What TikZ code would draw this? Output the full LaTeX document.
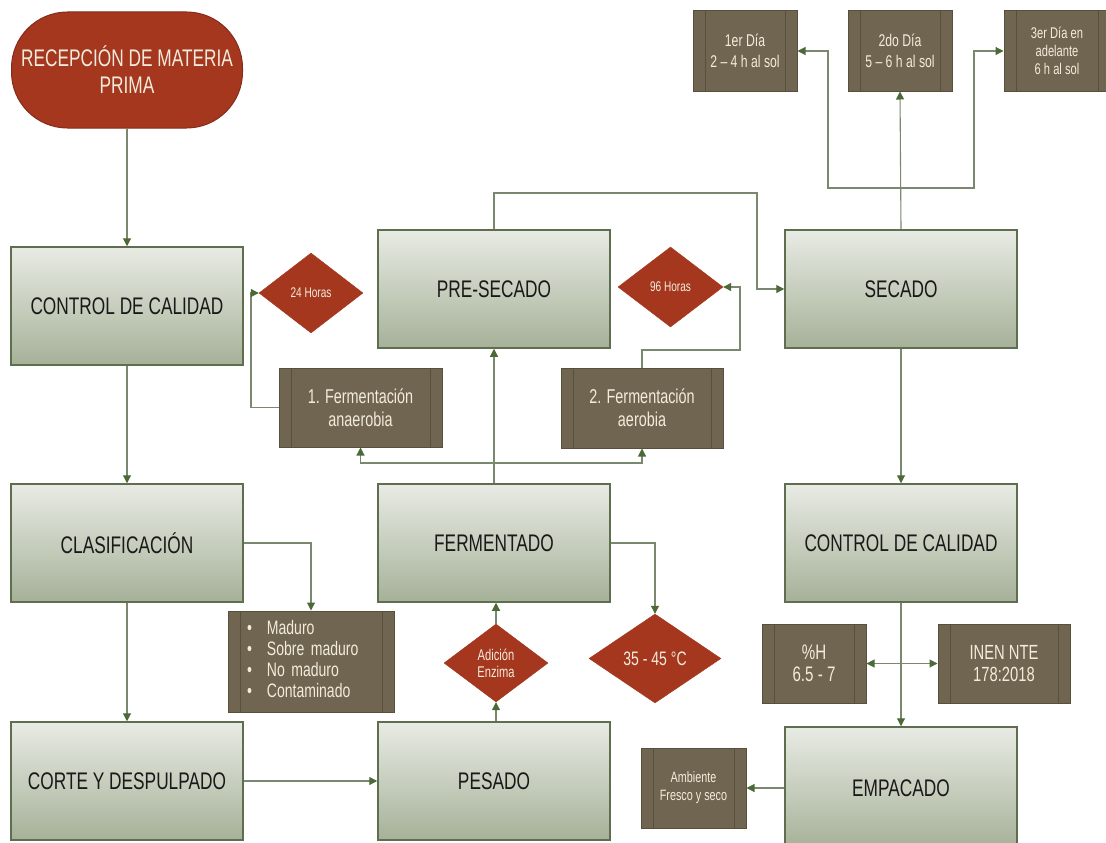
\documentclass[tikz,border=0pt]{standalone}
\usepackage{fontspec}
\setmainfont[FakeStretch=0.72]{Liberation Sans}
\usetikzlibrary{shapes.geometric,arrows.meta}
\definecolor{boxline}{HTML}{5E6E4E}
\definecolor{mtop}{HTML}{E8EBE4}
\definecolor{mbot}{HTML}{A6B198}
\definecolor{bfill}{HTML}{6F6550}
\definecolor{bline}{HTML}{594F3D}
\definecolor{redc}{HTML}{A5371F}
\definecolor{cream}{HTML}{F3ECDC}
\definecolor{lnc}{HTML}{7A8870}
\definecolor{tipc}{HTML}{4B6A37}
\tikzset{
  mainbox/.style={draw=boxline, line width=1.5pt, top color=mtop, bottom color=mbot,
    minimum width=232pt, minimum height=118pt, inner sep=0pt,
    font=\fontsize{24}{28}\selectfont, text=black!90},
  subbox/.style={draw=bline, line width=1pt, fill=bfill, text=cream, align=center, inner sep=0pt,
    path picture={
      \draw[bline, line width=1pt] ([xshift=12pt]path picture bounding box.north west) -- ([xshift=12pt]path picture bounding box.south west);
      \draw[bline, line width=1pt] ([xshift=-12pt]path picture bounding box.north east) -- ([xshift=-12pt]path picture bounding box.south east);}},
  dia/.style={diamond, fill=redc, draw=redc, text=cream, inner sep=0pt, align=center},
  conn/.style={draw=lnc, line width=1.1pt, -{Triangle[length=8pt,width=8pt,color=tipc]}}
}
\begin{document}
\begin{tikzpicture}[x=1pt,y=-1pt]
\clip (0,0) rectangle (1106,843);
\fill[white] (0,0) rectangle (1106,843);

% start
\node[draw=redc!80!black, line width=1pt, fill=redc, rounded corners=56pt, minimum width=231pt, minimum height=116pt,
  text=cream, align=center, font=\fontsize{24}{27}\selectfont, inner sep=0pt] (start) at (127,70) {RECEPCIÓN DE MATERIA\\PRIMA};

% main boxes
\node[mainbox] (cc1) at (127,306) {CONTROL DE CALIDAD};
\node[mainbox] (clas) at (127,543) {CLASIFICACIÓN};
\node[mainbox] (corte) at (127,781) {CORTE Y DESPULPADO};
\node[mainbox] (presec) at (494,289) {PRE-SECADO};
\node[mainbox] (ferm) at (494,543) {FERMENTADO};
\node[mainbox] (pes) at (494,781) {PESADO};
\node[mainbox] (sec) at (901,289) {SECADO};
\node[mainbox] (cc2) at (901,543) {CONTROL DE CALIDAD};
\node[mainbox, minimum height=122pt] (emp) at (901,788) {EMPACADO};

% sub boxes
\node[subbox, minimum width=104pt, minimum height=80pt, font=\fontsize{17}{21}\selectfont] (d1) at (745,51) {1er Día\\2 – 4 h al sol};
\node[subbox, minimum width=104pt, minimum height=80pt, font=\fontsize{17}{21}\selectfont] (d2) at (900,51) {2do Día\\5 – 6 h al sol};
\node[subbox, minimum width=106pt, minimum height=80pt, font=\fontsize{15.5}{18}\selectfont] (d3) at (1057,51) {3er Día en\\adelante\\6 h al sol};
\node[subbox, minimum width=163pt, minimum height=79pt, font=\fontsize{20}{23}\selectfont] (anaer) at (360.5,407.5) {1. Fermentación\\anaerobia};
\node[subbox, minimum width=162pt, minimum height=80pt, font=\fontsize{20}{23}\selectfont] (aer) at (642,408) {2. Fermentación\\aerobia};
\node[subbox, minimum width=166pt, minimum height=101pt, text width=128pt, align=left, font=\fontsize{19.5}{21}\selectfont] (bul) at (311,661.5)
  {\begin{tabular}{@{}l@{\hspace{15pt}}l@{}}•&Maduro\\•&Sobre maduro\\•&No maduro\\•&Contaminado\end{tabular}};
\node[subbox, minimum width=104pt, minimum height=79pt, font=\fontsize{21}{22}\selectfont] (hum) at (814,663.5) {\%H\\6.5 - 7};
\node[subbox, minimum width=132pt, minimum height=79pt, font=\fontsize{20.5}{22}\selectfont] (inen) at (1004,663.5) {INEN NTE\\178:2018};
\node[subbox, minimum width=105pt, minimum height=80pt, font=\fontsize{15}{18}\selectfont] (amb) at (693.5,788) {Ambiente\\Fresco y seco};

% diamonds
\node[dia, minimum width=104pt, minimum height=80pt, font=\fontsize{14}{16}\selectfont] (h24) at (311,293) {24 Horas};
\node[dia, minimum width=105pt, minimum height=80pt, font=\fontsize{14}{16}\selectfont] (h96) at (670.5,287) {96 Horas};
\node[dia, minimum width=104pt, minimum height=78pt, font=\fontsize{15.5}{17}\selectfont] (adic) at (496,663) {Adición\\Enzima};
\node[dia, minimum width=132pt, minimum height=89pt, font=\fontsize{19.5}{22}\selectfont] (temp) at (655,658.5) {35 - 45 °C};

% connectors
\draw[conn] (start) -- (cc1);
\draw[conn] (cc1) -- (clas);
\draw[conn] (clas) -- (corte);
\draw[conn] (clas.east) -| (bul.north);
\draw[conn] (corte.east) -- (pes.west);
\draw[conn] (pes.north -| adic.south) -- (adic.south);
\draw[conn] (adic.north) -- (ferm.south -| adic.north);
\draw[conn] (ferm.east) -| (temp.north);
\draw[conn] (ferm.north) -- (presec.south);
\coordinate (fj) at (494,463);
\draw[conn] (fj) -| (anaer.south);
\draw[conn] (fj) -| (aer.south);
\coordinate (aw) at (251,407.5);
\draw[conn] (anaer.west) -- (aw) |- (h24.west);
\coordinate (a1) at (740,350);
\draw[conn] (aer.north) |- (a1) |- (h96.east);
\coordinate (p1) at (757,193);
\draw[conn] (presec.north) |- (p1) |- (sec.west);
\draw[conn] (sec.north) -- (d2.south);
\coordinate (s0) at (901,188);
\coordinate (s1) at (828,188);
\coordinate (s2) at (974,188);
\draw[conn] (s0) -- (s1) |- (d1.east);
\draw[conn] (s0) -- (s2) |- (d3.west);
\draw[conn] (sec.south) -- (cc2.north);
\draw[conn] (cc2.south) -- (emp.north);
\coordinate (b1) at (901,663.5);
\draw[conn] (b1) -- (hum.east);
\draw[conn] (b1) -- (inen.west);
\draw[conn] (emp.west |- amb.east) -- (amb.east);
\end{tikzpicture}
\end{document}
